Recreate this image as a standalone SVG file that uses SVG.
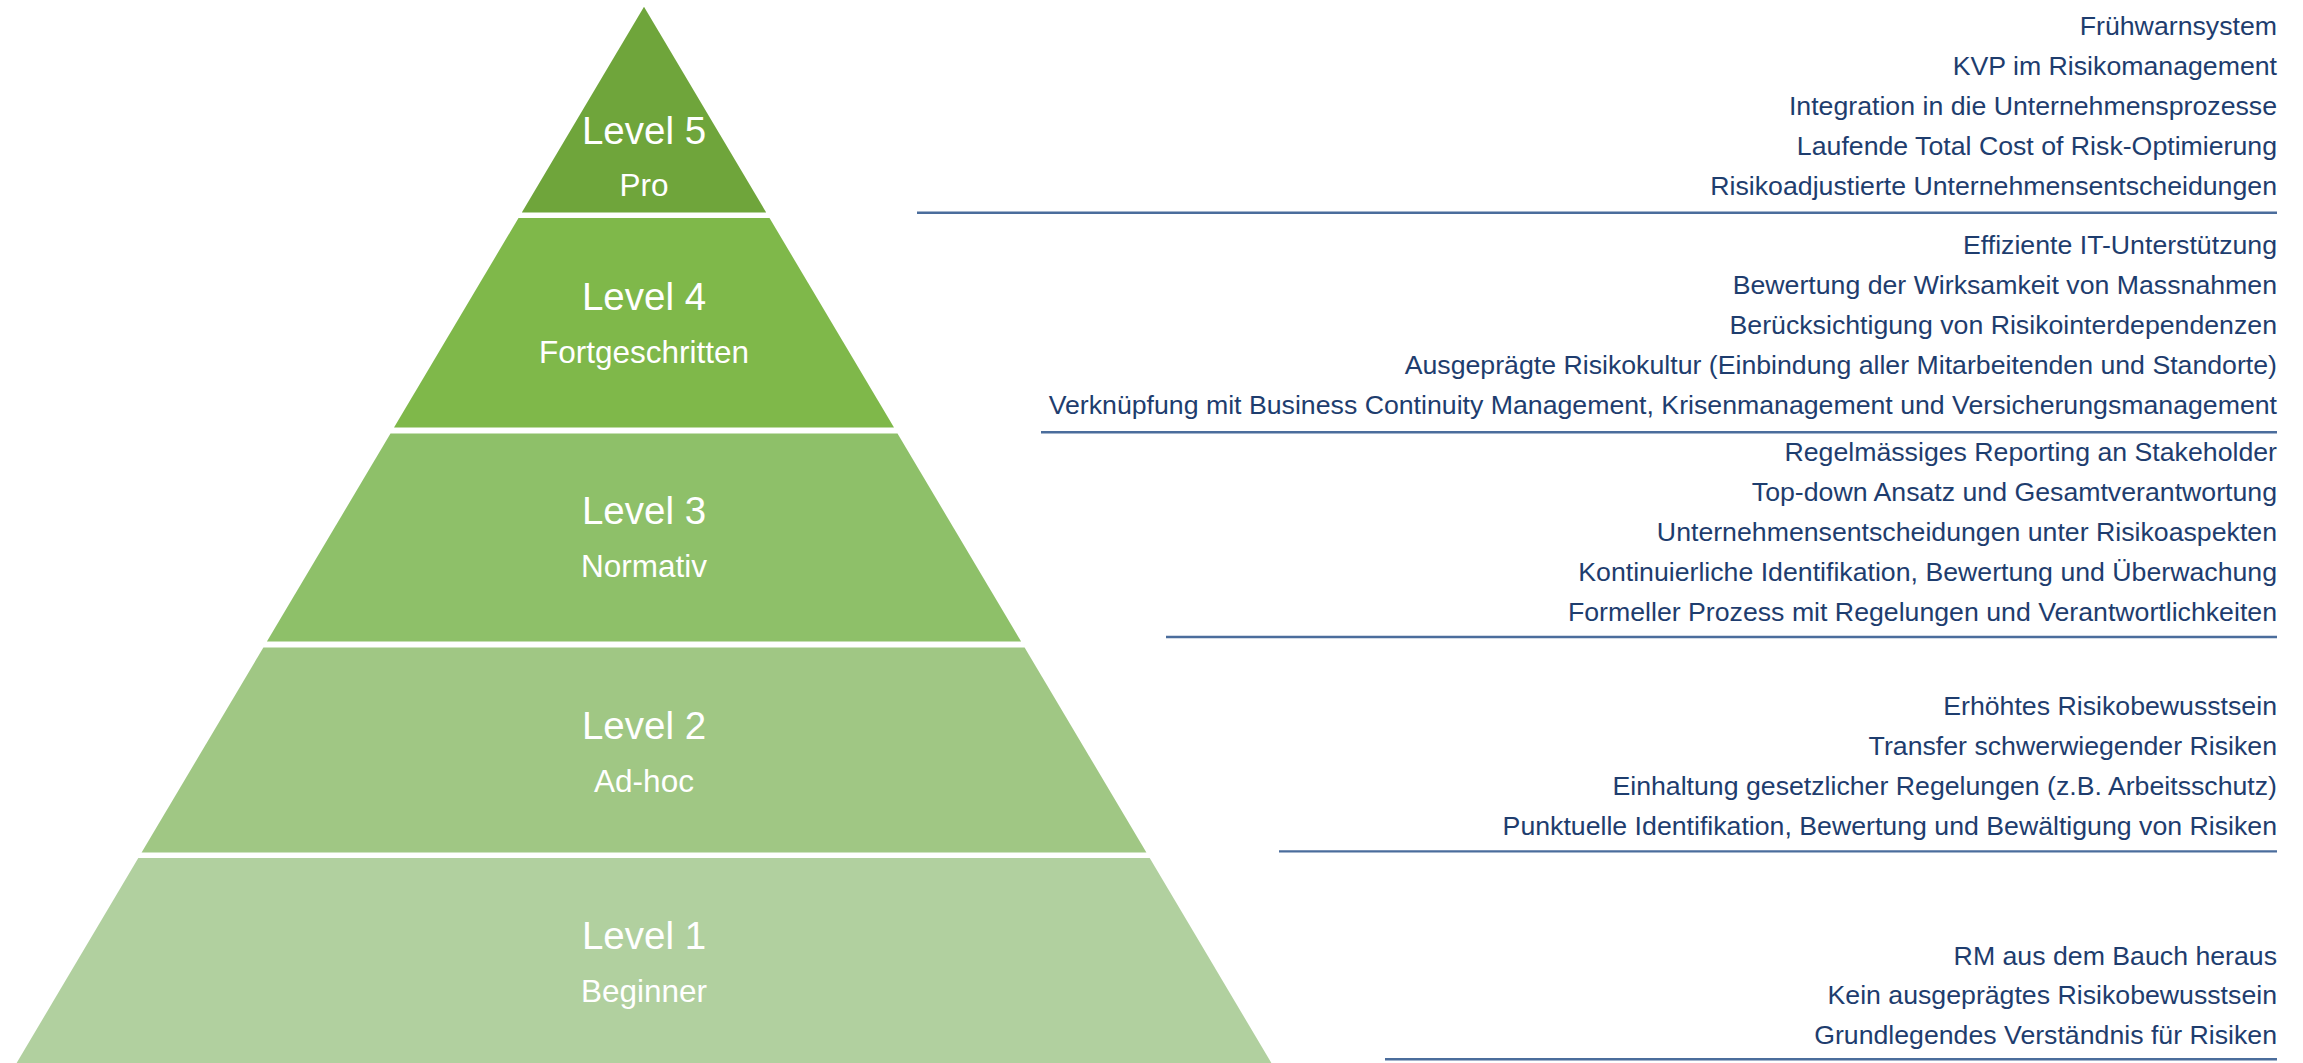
<svg xmlns="http://www.w3.org/2000/svg" width="2303" height="1063" viewBox="0 0 2303 1063">
  <style>
    .lvl { font-family: "Liberation Sans", Arial, sans-serif; fill: #ffffff; text-anchor: middle; }
    .lt { font-size: 38.5px; }
    .st { font-size: 31.5px; }
    .it { font-family: "Liberation Sans", Arial, sans-serif; font-size: 26.7px; fill: #1E3D6E; text-anchor: end; }
    .sep { stroke: #4B6D9C; stroke-width: 2.4; fill: none; }
  </style>
  <rect width="2303" height="1063" fill="#ffffff"/>

  <g id="level5">
    <polygon points="644,6.7 766.2,212.5 521.8,212.5" fill="#6FA53B"/>
    <text class="lvl lt" x="644" y="143.5">Level 5</text>
    <text class="lvl st" x="644" y="196">Pro</text>
  </g>
  <g id="level4">
    <polygon points="518.5,218 769.5,218 894,427.5 394,427.5" fill="#7FB84A"/>
    <text class="lvl lt" x="644" y="310">Level 4</text>
    <text class="lvl st" x="644" y="362.5">Fortgeschritten</text>
  </g>
  <g id="level3">
    <polygon points="390.5,433.5 897.5,433.5 1021.1,641.5 266.9,641.5" fill="#8EC069"/>
    <text class="lvl lt" x="644" y="524">Level 3</text>
    <text class="lvl st" x="644" y="577">Normativ</text>
  </g>
  <g id="level2">
    <polygon points="263.4,647.5 1024.6,647.5 1146.4,852.5 141.6,852.5" fill="#A0C784"/>
    <text class="lvl lt" x="644" y="739">Level 2</text>
    <text class="lvl st" x="644" y="792">Ad-hoc</text>
  </g>
  <g id="level1">
    <polygon points="138.3,858 1149.7,858 1271.4,1063 16.6,1063" fill="#B1D09F"/>
    <text class="lvl lt" x="644" y="948.5">Level 1</text>
    <text class="lvl st" x="644" y="1001.5">Beginner</text>
  </g>

  <g id="items5">
    <text class="it" x="2277" y="35">Frühwarnsystem</text>
    <text class="it" x="2277" y="75">KVP im Risikomanagement</text>
    <text class="it" x="2277" y="115">Integration in die Unternehmensprozesse</text>
    <text class="it" x="2277" y="155">Laufende Total Cost of Risk-Optimierung</text>
    <text class="it" x="2277" y="194.5">Risikoadjustierte Unternehmensentscheidungen</text>
  </g>
  <g id="items4">
    <text class="it" x="2277" y="254">Effiziente IT-Unterstützung</text>
    <text class="it" x="2277" y="294">Bewertung der Wirksamkeit von Massnahmen</text>
    <text class="it" x="2277" y="333.5">Berücksichtigung von Risikointerdependenzen</text>
    <text class="it" x="2277" y="373.5">Ausgeprägte Risikokultur (Einbindung aller Mitarbeitenden und Standorte)</text>
    <text class="it" x="2277" y="413.5">Verknüpfung mit Business Continuity Management, Krisenmanagement und Versicherungsmanagement</text>
  </g>
  <g id="items3">
    <text class="it" x="2277" y="461">Regelmässiges Reporting an Stakeholder</text>
    <text class="it" x="2277" y="501">Top-down Ansatz und Gesamtverantwortung</text>
    <text class="it" x="2277" y="541">Unternehmensentscheidungen unter Risikoaspekten</text>
    <text class="it" x="2277" y="581">Kontinuierliche Identifikation, Bewertung und Überwachung</text>
    <text class="it" x="2277" y="621">Formeller Prozess mit Regelungen und Verantwortlichkeiten</text>
  </g>
  <g id="items2">
    <text class="it" x="2277" y="715">Erhöhtes Risikobewusstsein</text>
    <text class="it" x="2277" y="755">Transfer schwerwiegender Risiken</text>
    <text class="it" x="2277" y="795">Einhaltung gesetzlicher Regelungen (z.B. Arbeitsschutz)</text>
    <text class="it" x="2277" y="835">Punktuelle Identifikation, Bewertung und Bewältigung von Risiken</text>
  </g>
  <g id="items1">
    <text class="it" x="2277" y="964.5">RM aus dem Bauch heraus</text>
    <text class="it" x="2277" y="1004">Kein ausgeprägtes Risikobewusstsein</text>
    <text class="it" x="2277" y="1044">Grundlegendes Verständnis für Risiken</text>
  </g>

  <g id="connectors">
    <line class="sep" x1="917" y1="212.7" x2="2277" y2="212.7"/>
    <line class="sep" x1="1041" y1="432.3" x2="2277" y2="432.3"/>
    <line class="sep" x1="1166" y1="637" x2="2277" y2="637"/>
    <line class="sep" x1="1279" y1="851.4" x2="2277" y2="851.4"/>
    <line class="sep" x1="1385" y1="1059.3" x2="2277" y2="1059.3"/>
  </g>
</svg>
